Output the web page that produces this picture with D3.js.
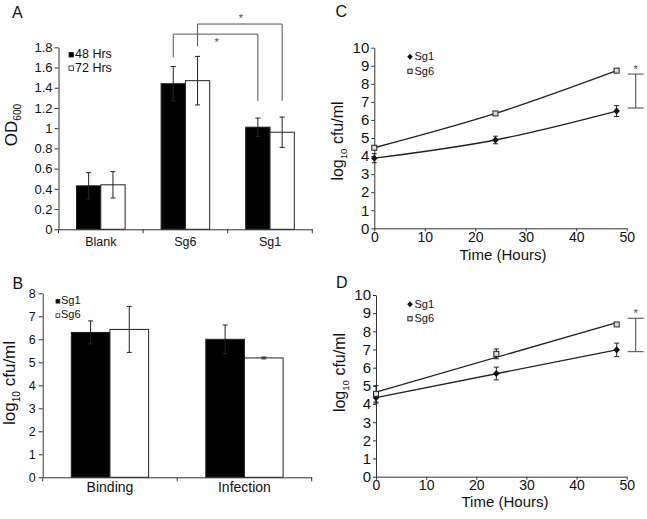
<!DOCTYPE html>
<html>
<head>
<meta charset="utf-8">
<script src="https://cdn.jsdelivr.net/npm/d3@7"></script>
<style>
body { margin: 0; background: #fff; }
svg text { font-family: "Liberation Sans", Arial, sans-serif; fill: #111; }
.axis path, .axis line { stroke: #333; }
.axis text { fill: #111; }
</style>
</head>
<body>
<div id="fig"></div>
<script>
// panel A - OD600 per group
var groupsA = ["Blank", "Sg6", "Sg1"];
var od48 = [0.43, 1.44, 1.01];
var od48Err = [0.13, 0.17, 0.09];
var od72 = [0.44, 1.47, 0.96];
var od72Err = [0.13, 0.24, 0.15];
var ticksA = [0, 0.2, 0.4, 0.6, 0.8, 1, 1.2, 1.4, 1.6, 1.8];
var legendA = ["48 Hrs", "72 Hrs"];

// panel B - binding / infection
var groupsB = ["Binding", "Infection"];
var bSg1 = [6.3, 6.0];
var bSg1Err = [0.5, 0.62];
var bSg6 = [6.43, 5.19];
var bSg6Err = [1.0, 0.04];
var ticksB = [0, 1, 2, 3, 4, 5, 6, 7, 8];
var legendB = ["Sg1", "Sg6"];

// panels C and D - growth over time
var hours = [0, 24, 48];
var cSg1 = [3.88, 4.89, 6.49];
var cSg1Err = [0.25, 0.21, 0.3];
var cSg6 = [4.46, 6.36, 8.73];
var cSg6Err = [0.1, 0.1, 0.08];
var dSg1 = [4.35, 5.68, 6.98];
var dSg1Err = [0.3, 0.35, 0.37];
var dSg6 = [4.56, 6.76, 8.38];
var dSg6Err = [0.45, 0.27, 0.08];
var ticksY = [0, 1, 2, 3, 4, 5, 6, 7, 8, 9, 10];
var ticksX = [0, 10, 20, 30, 40, 50];

// significance markers: [low, high] in axis units
var sigC = [6.66, 8.54];
var sigD = [6.88, 8.72];

var svg = d3.select("#fig").append("svg")
  .attr("width", 647)
  .attr("height", 519);

function errBar(g, x, y, v, e, cap, color) {
  g.append("line").attr("x1", x).attr("x2", x)
    .attr("y1", y(v - e)).attr("y2", y(v + e))
    .attr("stroke", color).attr("stroke-width", 1);
  [v - e, v + e].forEach(function(t) {
    g.append("line").attr("x1", x - cap).attr("x2", x + cap)
      .attr("y1", y(t)).attr("y2", y(t))
      .attr("stroke", color).attr("stroke-width", 1);
  });
}

function drawBars(cfg) {
  var g = svg.append("g");
  var x = d3.scaleBand().domain(cfg.groups).range(cfg.xr);
  var inner = d3.scaleBand().domain([0, 1]).range([0, x.bandwidth()])
    .paddingInner(0).paddingOuter(0.74);
  var y = d3.scaleLinear().domain([0, cfg.ymax]).range(cfg.yr);

  // bars
  var series = [
    {vals: cfg.s1, errs: cfg.e1, fill: "#000"},
    {vals: cfg.s2, errs: cfg.e2, fill: "#fff"}
  ];
  series.forEach(function(s, si) {
    cfg.groups.forEach(function(gr, i) {
      var bx = x(gr) + inner(si);
      g.append("rect")
        .attr("x", bx).attr("y", y(s.vals[i]))
        .attr("width", inner.bandwidth())
        .attr("height", y(0) - y(s.vals[i]))
        .attr("fill", s.fill).attr("stroke", "#222").attr("stroke-width", 1);
      errBar(g, bx + inner.bandwidth() / 2, y, s.vals[i], s.errs[i], 2.5, "#222");
    });
  });

  // y axis
  var ya = g.append("g").attr("class", "axis")
    .attr("transform", `translate(${cfg.xr[0]},0)`)
    .call(d3.axisLeft(y).tickValues(cfg.ticks).tickSize(4).tickSizeOuter(0)
      .tickPadding(cfg.tpad).tickFormat(function(d) { return d; }));
  ya.selectAll("text").style("font-size", cfg.tickFont + "px");

  // x axis with ticks between groups
  var xa = g.append("g").attr("class", "axis")
    .attr("transform", `translate(0,${y(0)})`)
    .call(d3.axisBottom(x).tickSize(0).tickSizeOuter(0).tickPadding(cfg.xpad));
  xa.selectAll("text").style("font-size", cfg.labelFont + "px");
  var edges = cfg.groups.map(function(d) { return x(d); }).concat([cfg.xr[1]]);
  xa.selectAll(".sep").data(edges).enter().append("line")
    .attr("x1", d => d).attr("x2", d => d)
    .attr("y1", 0).attr("y2", 4).attr("stroke", "#333");

  return {g: g, x: x, inner: inner, y: y};
}

function drawLines(cfg) {
  var g = svg.append("g");
  var x = d3.scaleLinear().domain([0, 50]).range(cfg.xr);
  var y = d3.scaleLinear().domain([0, 10]).range(cfg.yr);

  var ya = g.append("g").attr("class", "axis")
    .attr("transform", `translate(${cfg.xr[0]},0)`)
    .call(d3.axisLeft(y).tickValues(ticksY).tickSize(3).tickSizeOuter(0).tickPadding(2));
  ya.selectAll("text").style("font-size", "15px");
  var xa = g.append("g").attr("class", "axis")
    .attr("transform", `translate(0,${cfg.yr[0]})`)
    .call(d3.axisBottom(x).tickValues(ticksX).tickSize(3).tickSizeOuter(0).tickPadding(cfg.xpad));
  xa.selectAll("text").style("font-size", "14px");

  var series = [
    {vals: cfg.s1, errs: cfg.e1, sym: "diamond"},
    {vals: cfg.s2, errs: cfg.e2, sym: "square"}
  ];
  series.forEach(function(s) {
    var pts = hours.map(function(h, i) { return [h, s.vals[i]]; });
    var linePts;
    if (cfg.trend) {
      // linear trend line through the points
      var mx = d3.mean(hours), my = d3.mean(s.vals);
      var slope = d3.sum(pts, p => (p[0] - mx) * (p[1] - my)) / d3.sum(pts, p => (p[0] - mx) * (p[0] - mx));
      var b = my - slope * mx;
      linePts = [[0, b], [48, b + slope * 48]];
    } else {
      linePts = pts;
    }
    g.append("path")
      .datum(linePts)
      .attr("fill", "none").attr("stroke", "#222").attr("stroke-width", 1.3)
      .attr("d", d3.line().x(d => x(d[0])).y(d => y(d[1]))
        .curve(cfg.trend ? d3.curveLinear : d3.curveCatmullRom));
    pts.forEach(function(p, i) {
      errBar(g, x(p[0]), y, p[1], s.errs[i], 2.5, "#222");
      marker(g, x(p[0]), y(p[1]), s.sym, 1);
    });
  });

  // significance bracket
  var bx = x(50) + 9;
  g.append("line").attr("x1", bx).attr("x2", bx)
    .attr("y1", y(cfg.sig[0])).attr("y2", y(cfg.sig[1]))
    .attr("stroke", "#444");
  cfg.sig.forEach(function(v) {
    g.append("line").attr("x1", bx - 8).attr("x2", bx + 8)
      .attr("y1", y(v)).attr("y2", y(v)).attr("stroke", "#444");
  });
  g.append("text").attr("x", bx).attr("y", y(cfg.sig[1]) - 1)
    .attr("text-anchor", "middle").style("font-size", "11px").style("fill", "#444")
    .text("*");

  // legend
  ["Sg1", "Sg6"].forEach(function(name, i) {
    var ly = cfg.legY + i * 14.5;
    marker(g, cfg.legX, ly, i === 0 ? "diamond" : "square", 0.85);
    g.append("text").attr("x", cfg.legX + 4.5).attr("y", ly + 3.6)
      .style("font-size", "11px").text(name);
  });
  return {g: g, x: x, y: y};
}

function marker(g, cx, cy, sym, k) {
  if (sym === "diamond") {
    var w = 3.3 * k, h = 3.6 * k;
    g.append("path")
      .attr("d", `M${cx},${cy - h}L${cx + w},${cy}L${cx},${cy + h}L${cx - w},${cy}Z`)
      .attr("fill", "#111");
  } else {
    var s = 5 * k;
    g.append("rect").attr("x", cx - s / 2).attr("y", cy - s / 2)
      .attr("width", s).attr("height", s)
      .attr("fill", "#ddd").attr("stroke", "#222").attr("stroke-width", 1);
  }
}

function yTitle(x, y, main, sub, rest, size) {
  var t = svg.append("text")
    .attr("transform", `translate(${x},${y}) rotate(-90)`)
    .attr("text-anchor", "middle")
    .style("font-size", size + "px");
  t.append("tspan").text(main);
  t.append("tspan").attr("dy", size * 0.28).style("font-size", (size * 0.6) + "px").text(sub);
  if (rest) t.append("tspan").attr("dy", -size * 0.28).text(rest);
}

function panelLetter(x, y, s) {
  svg.append("text").attr("x", x).attr("y", y)
    .style("font-size", "16px").text(s);
}

// ---- panel A ----
var A = drawBars({
  groups: groupsA, s1: od48, e1: od48Err, s2: od72, e2: od72Err,
  xr: [58.5, 312.3], yr: [229.3, 47.3], ymax: 1.8, ticks: ticksA,
  tpad: 2, tickFont: 13, labelFont: 12.5, xpad: 8
});
// brackets comparing Sg6 and Sg1
function bracket(g, x1, x2, yTop, yL, yR, starAbove) {
  g.append("path")
    .attr("d", `M${x1},${yL}V${yTop}H${x2}V${yR}`)
    .attr("fill", "none").attr("stroke", "#555").attr("stroke-width", 1);
  g.append("text")
    .attr("x", (x1 + x2) / 2 + 1)
    .attr("y", starAbove ? yTop - 2 : yTop + 12)
    .attr("text-anchor", "middle")
    .style("font-size", "11px").style("fill", "#444").text("*");
}
var bwA = A.inner.bandwidth() / 2;
bracket(A.g, A.x("Sg6") + A.inner(0) + bwA, A.x("Sg1") + A.inner(0) + bwA,
  A.y(1.93), A.y(1.70), A.y(1.27), false);
bracket(A.g, A.x("Sg6") + A.inner(1) + bwA, A.x("Sg1") + A.inner(1) + bwA,
  A.y(2.03), A.y(1.81), A.y(1.27), true);
legendA.forEach(function(name, i) {
  var ly = 52.5 + i * 13.5;
  A.g.append("rect").attr("x", 69).attr("y", ly).attr("width", 4.5).attr("height", 4.5)
    .attr("fill", i === 0 ? "#000" : "#fff").attr("stroke", "#222").attr("stroke-width", 0.8);
  A.g.append("text").attr("x", 75).attr("y", ly + 5.5)
    .style("font-size", "12.5px").text(name);
});
yTitle(16.5, 125, "OD", "600", "", 17);
panelLetter(12, 17.5, "A");

// ---- panel B ----
var B = drawBars({
  groups: groupsB, s1: bSg1, e1: bSg1Err, s2: bSg6, e2: bSg6Err,
  xr: [42.7, 311.7], yr: [477.3, 293.3], ymax: 8, ticks: ticksB,
  tpad: 3, tickFont: 12.5, labelFont: 14, xpad: 4.5
});
legendB.forEach(function(name, i) {
  var ly = 299.3 + i * 14.5;
  B.g.append("rect").attr("x", 56).attr("y", ly).attr("width", 3.8).attr("height", 3.8)
    .attr("fill", i === 0 ? "#000" : "#fff").attr("stroke", "#222").attr("stroke-width", 0.8);
  B.g.append("text").attr("x", 61).attr("y", ly + 4.5)
    .style("font-size", "11px").text(name);
});
yTitle(15, 383, "log", "10", " cfu/ml", 17);
panelLetter(12.5, 289, "B");

// ---- panel C ----
drawLines({
  s1: cSg1, e1: cSg1Err, s2: cSg6, e2: cSg6Err,
  xr: [374.3, 626.7], yr: [228.3, 47.7], xpad: 1,
  trend: false, sig: sigC, legX: 410, legY: 56.8
});
yTitle(343, 141, "log", "10", " cfu/ml", 16);
svg.append("text").attr("x", 503).attr("y", 259.5).attr("text-anchor", "middle")
  .style("font-size", "15px").text("Time (Hours)");
panelLetter(335.5, 16.7, "C");

// ---- panel D ----
drawLines({
  s1: dSg1, e1: dSg1Err, s2: dSg6, e2: dSg6Err,
  xr: [376, 626.7], yr: [476.7, 295], xpad: 0,
  trend: true, sig: sigD, legX: 410, legY: 304.2
});
yTitle(345, 372.5, "log", "10", " cfu/ml", 16);
svg.append("text").attr("x", 505).attr("y", 506.5).attr("text-anchor", "middle")
  .style("font-size", "15px").text("Time (Hours)");
panelLetter(336, 288.3, "D");
</script>
</body>
</html>
